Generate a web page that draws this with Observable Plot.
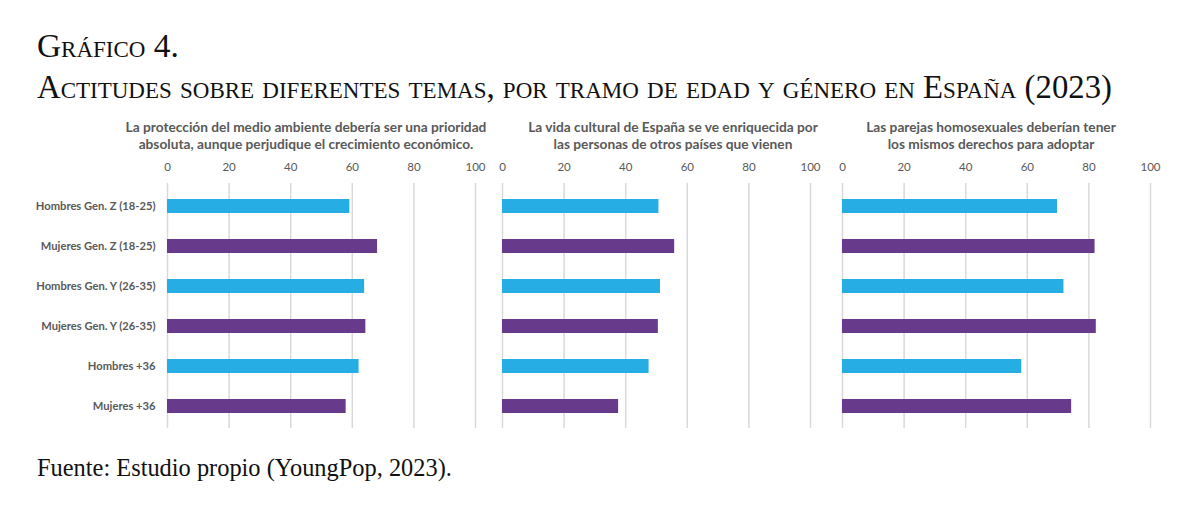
<!DOCTYPE html>
<html>
<head>
<meta charset="utf-8">
<script src="https://cdn.jsdelivr.net/npm/d3@7"></script>
<script src="https://cdn.jsdelivr.net/npm/@observablehq/plot@0.6"></script>
<style>
  html, body { margin: 0; padding: 0; background: #fff; }
  #root { position: relative; width: 1196px; height: 514px; overflow: hidden; background: #fff; }
  .serif { font-family: "Liberation Serif", "Times New Roman", serif; color: #111; position: absolute; white-space: nowrap; line-height: 1; }
  .sc { font-variant: small-caps; }
  .ptitle { position: absolute; font-family: Lato, "Open Sans", sans-serif; font-weight: bold; color: #595959; text-align: center; white-space: nowrap; line-height: 17px; }
  .ptitle span { display: inline-block; }
  .plot { position: absolute; }
</style>
</head>
<body>
<div id="root"></div>
<script>
// ---- Data ----
const grupos = [
  "Hombres Gen. Z (18-25)",
  "Mujeres Gen. Z (18-25)",
  "Hombres Gen. Y (26-35)",
  "Mujeres Gen. Y (26-35)",
  "Hombres +36",
  "Mujeres +36"
];
const generos = ["Hombres", "Mujeres", "Hombres", "Mujeres", "Hombres", "Mujeres"];
const medioAmbiente = [59.2, 68.2, 64.0, 64.4, 62.2, 58.0];
const vidaCultural = [50.8, 55.9, 51.3, 50.6, 47.6, 37.7];
const parejasHomosexuales = [69.8, 82.0, 71.9, 82.4, 58.2, 74.4];
const xTicks = [0, 20, 40, 60, 80, 100];
const titulosPaneles = [
  ["La protección del medio ambiente debería ser una prioridad", "absoluta, aunque perjudique el crecimiento económico."],
  ["La vida cultural de España se ve enriquecida por", "las personas de otros países que vienen"],
  ["Las parejas homosexuales deberían tener", "los mismos derechos para adoptar"]
];
const titulo1 = "Gráfico 4.";
const titulo2 = "Actitudes sobre diferentes temas, por tramo de edad y género en España (2023)";
const fuente = "Fuente: Estudio propio (YoungPop, 2023).";

const azul = "#26ade3", morado = "#673a8b";
const root = document.getElementById("root");

const fitters = [];
function addText(cls, text, left, baseline, size, targetW) {
  const el = document.createElement("div");
  el.className = cls;
  el.textContent = text;
  el.style.left = left + "px";
  el.style.fontSize = size + "px";
  root.appendChild(el);
  const fit = () => {
    let s = size;
    el.style.fontSize = s + "px";
    if (targetW) {
      for (let k = 0; k < 3; k++) {
        const w = el.getBoundingClientRect().width;
        s = s * targetW / w;
        el.style.fontSize = s + "px";
      }
    }
    el.style.top = (baseline - 0.8375 * s) + "px";
  };
  fit();
  fitters.push(fit);
  return el;
}

addText("serif sc", titulo1, 37, 57, 29, 143);
addText("serif sc", titulo2, 37, 98, 29, 1056);
addText("serif", fuente, 37, 476, 22, 415);

// Panel titles
const centros = [306, 673, 991];
const ptSize = 13;
const ptEls = [];
titulosPaneles.forEach((lines, i) => {
  const d = document.createElement("div");
  d.className = "ptitle";
  d.style.left = (centros[i] - 250) + "px";
  d.style.width = "500px";
  d.style.top = "118px";
  d.style.fontSize = ptSize + "px";
  d.innerHTML = lines.map(l => "<span>" + l + "</span>").join("<br>");
  root.appendChild(d);
  ptEls.push(d);
});
function fitPanelTitles() {
  ptEls.forEach(d => d.style.fontSize = ptSize + "px");
  const w = ptEls[0].querySelector("span").getBoundingClientRect().width;
  const s = ptSize * 361 / w;
  ptEls.forEach(d => d.style.fontSize = s + "px");
}
fitPanelTitles();
fitters.push(fitPanelTitles);

function panel(values, left, width, marginLeft, marginRight, showY) {
  const data = grupos.map((g, i) => ({grupo: g, genero: generos[i], valor: values[i]}));
  const marks = [
    Plot.ruleX(xTicks, {stroke: "#d9d9d9", strokeWidth: 1.5}),
    Plot.barX(data, {x: "valor", y: "grupo", fill: "genero"}),
    Plot.axisX({anchor: "top", ticks: xTicks, tickSize: 0, tickPadding: 13, fontSize: 11.5, label: null})
  ];
  if (showY) marks.push(Plot.axisY({anchor: "left", tickSize: 0, tickPadding: 12, fontSize: 11.2, fontWeight: "bold", label: null}));
  const svg = Plot.plot({
    width, height: 290,
    marginTop: 33, marginBottom: 12, marginLeft, marginRight,
    style: {fontFamily: "Lato, 'Open Sans', sans-serif", color: "#595959", background: "transparent"},
    x: {domain: [0, 100], axis: null},
    y: {domain: grupos, paddingInner: 0.66, paddingOuter: 0.33, axis: null},
    color: {domain: ["Hombres", "Mujeres"], range: [azul, morado]},
    marks
  });
  svg.classList.add("plot");
  svg.style.left = left + "px";
  svg.style.top = "150px";
  root.appendChild(svg);
}

panel(medioAmbiente, 0, 490, 167, 15, true);
panel(vidaCultural, 490, 335, 12, 15, false);
panel(parejasHomosexuales, 830, 340, 12, 20, false);

if (document.fonts && document.fonts.ready) {
  document.fonts.ready.then(() => fitters.forEach(f => f()));
}
</script>
</body>
</html>
